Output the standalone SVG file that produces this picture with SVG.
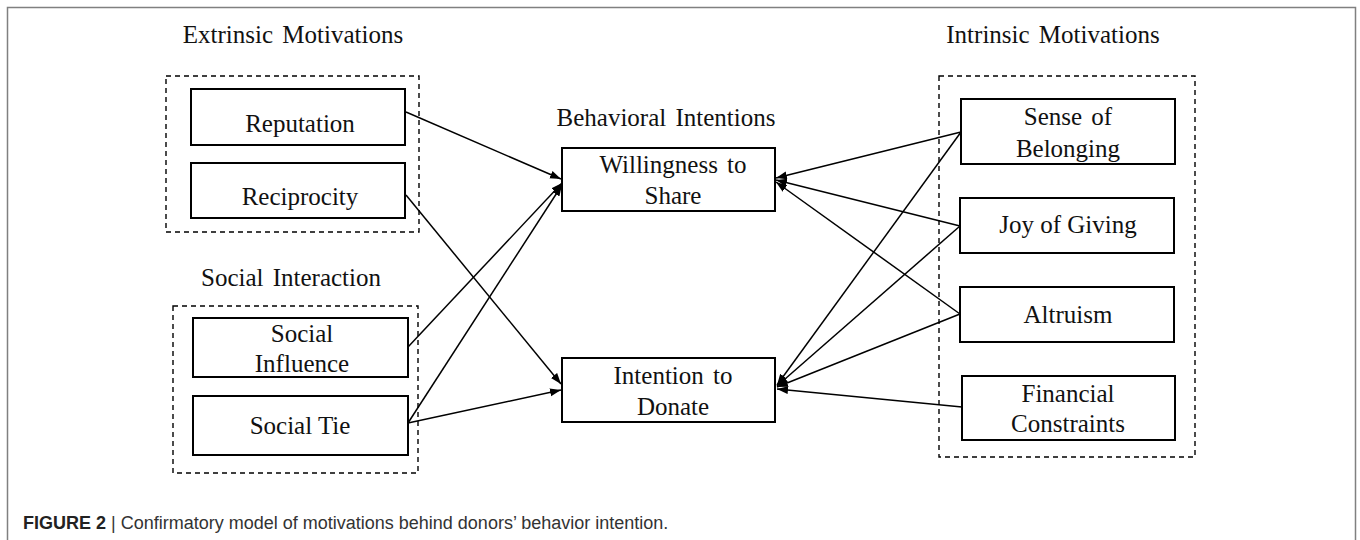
<svg xmlns="http://www.w3.org/2000/svg" width="1360" height="540" viewBox="0 0 1360 540">
<style>
.frame{fill:none;stroke:#808080;stroke-width:1.5}
.box{fill:#fff;stroke:#000;stroke-width:2}
.grp{fill:none;stroke:#000;stroke-width:1.4;stroke-dasharray:5 4}
.t{font-family:"Liberation Serif","Times New Roman",serif;font-size:25px;fill:#111;text-anchor:middle}
.h{font-family:"Liberation Serif","Times New Roman",serif;font-size:25px;fill:#111;text-anchor:middle;word-spacing:3px}
.c{fill:none;stroke:#000;stroke-width:1.5;marker-end:url(#arr)}
.cap{font-family:"Liberation Sans",Arial,sans-serif;font-size:18px;fill:#333}
</style>
<defs>
<marker id="arr" markerUnits="userSpaceOnUse" markerWidth="12" markerHeight="9" refX="11" refY="4" orient="auto">
<path d="M0,0 L11,4 L0,8 z" fill="#000"/>
</marker>
</defs>
<rect width="1360" height="540" fill="#fff"/>
<path class="frame" d="M7.5,540 V7.5 H1355.5 V540"/>

<g id="group-extrinsic">
<text class="h" x="293" y="43">Extrinsic Motivations</text>
<rect class="grp" x="166" y="76" width="253" height="156"/>
</g>
<g id="group-social">
<text class="h" x="291" y="286">Social Interaction</text>
<rect class="grp" x="173" y="306" width="245" height="167"/>
</g>
<g id="group-behavioral">
<text class="h" x="666" y="126">Behavioral Intentions</text>
</g>
<g id="group-intrinsic">
<text class="h" x="1053" y="43">Intrinsic Motivations</text>
<rect class="grp" x="939" y="76" width="256" height="381"/>
</g>

<g id="connectors">
<line class="c" x1="406" y1="112" x2="561" y2="179"/>
<line class="c" x1="406" y1="195" x2="561" y2="384"/>
<line class="c" x1="408" y1="347" x2="562" y2="183"/>
<line class="c" x1="408" y1="423" x2="562" y2="185"/>
<line class="c" x1="408" y1="423" x2="561" y2="390"/>
<line class="c" x1="961" y1="132" x2="776" y2="178"/>
<line class="c" x1="961" y1="132" x2="777" y2="385"/>
<line class="c" x1="960" y1="226" x2="776" y2="180"/>
<line class="c" x1="960" y1="226" x2="777" y2="386"/>
<line class="c" x1="960" y1="314" x2="776" y2="182"/>
<line class="c" x1="960" y1="314" x2="777" y2="387"/>
<line class="c" x1="962" y1="407" x2="777" y2="389"/>
</g>

<g id="reputation">
<rect class="box" x="191" y="89" width="214" height="56"/>
<text class="t" x="300" y="132">Reputation</text>
</g>
<g id="reciprocity">
<rect class="box" x="191" y="163" width="214" height="55"/>
<text class="t" x="300" y="205">Reciprocity</text>
</g>
<g id="social-influence">
<rect class="box" x="193" y="318" width="215" height="59"/>
<text class="t" x="302" y="342">Social</text>
<text class="t" x="302" y="372">Influence</text>
</g>
<g id="social-tie">
<rect class="box" x="193" y="396" width="215" height="59"/>
<text class="t" x="300" y="434">Social Tie</text>
</g>
<g id="willingness">
<rect class="box" x="562" y="148" width="213" height="63"/>
<text class="t" x="673" y="173" style="word-spacing:3px">Willingness to</text>
<text class="t" x="673" y="204">Share</text>
</g>
<g id="intention">
<rect class="box" x="562" y="358" width="213" height="64"/>
<text class="t" x="673" y="384" style="word-spacing:3px">Intention to</text>
<text class="t" x="673" y="415">Donate</text>
</g>
<g id="belonging">
<rect class="box" x="961" y="99" width="214" height="65"/>
<text class="t" x="1068" y="125" style="word-spacing:3px">Sense of</text>
<text class="t" x="1068" y="157">Belonging</text>
</g>
<g id="joy">
<rect class="box" x="960" y="198" width="214" height="55"/>
<text class="t" x="1068" y="233">Joy of Giving</text>
</g>
<g id="altruism">
<rect class="box" x="960" y="287" width="214" height="55"/>
<text class="t" x="1068" y="323">Altruism</text>
</g>
<g id="financial">
<rect class="box" x="962" y="376" width="213" height="64"/>
<text class="t" x="1068" y="402">Financial</text>
<text class="t" x="1068" y="432">Constraints</text>
</g>

<text class="cap" x="23" y="529"><tspan font-weight="bold" fill="#222">FIGURE 2</tspan> | Confirmatory model of motivations behind donors’ behavior intention.</text>
</svg>
